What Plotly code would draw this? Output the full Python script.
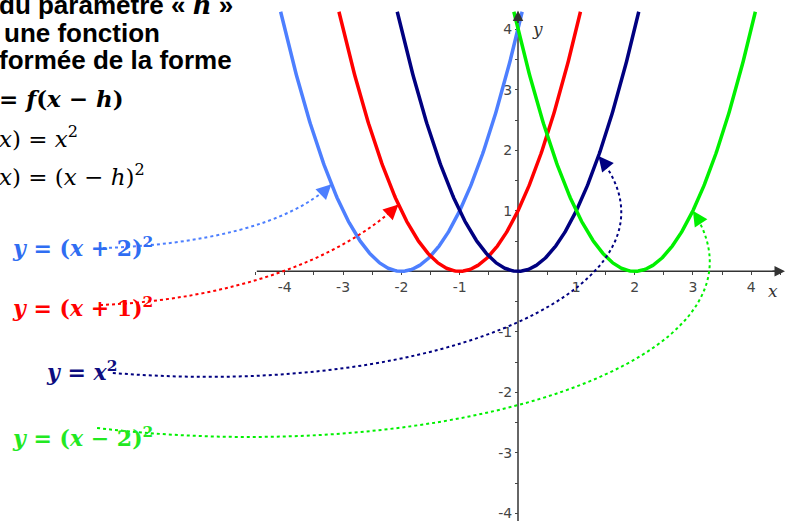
import numpy as np
import plotly.graph_objects as go

# y = (x - h)^2 for each shift h
h_values = [-2, -1, 0, 2]
curve_labels = [
    "<i>y</i> = (<i>x</i> + 2)<sup>2</sup>",
    "<i>y</i> = (<i>x</i> + 1)<sup>2</sup>",
    "<i>y</i> = <i>x</i><sup>2</sup>",
    "<i>y</i> = (<i>x</i> − 2)<sup>2</sup>",
]
curve_colors = ["#4d7fff", "#ff0000", "#000080", "#00f000"]
label_colors = ["#2f6df2", "#ff0000", "#0d0d80", "#22e822"]
arrow_tip_x = [-3.2, -2.05, 1.38, 3.0]   # where each dotted arrow lands on its curve

x_ticks = [-4, -3, -2, -1, 1, 2, 3, 4]
y_ticks = [-4, -3, -2, -1, 1, 2, 3, 4]
y_top = 4.29  # curves are cut here

W, H = 786, 521
x_range = [-8.885, 4.597]
y_range = [-4.127, 4.484]
sx = W / (x_range[1] - x_range[0])
sy = H / (y_range[1] - y_range[0])


def px(x, y):
    # pixel position -> paper coords
    return x / W, 1 - y / H


fig = go.Figure()

for h, col in zip(h_values, curve_colors):
    half = np.sqrt(y_top)
    xs = np.linspace(h - half, h + half, 300)
    fig.add_trace(go.Scatter(x=xs, y=(xs - h) ** 2, mode="lines",
                             line=dict(color=col, width=3.5), hoverinfo="skip"))

# dotted connectors: start point + two bezier control points, end on the curve
connectors = [
    [(-7.12, 0.385), (-5.45, 0.435), (-3.91, 0.765)],
    [(-7.17, -0.557), (-4.94, -0.474), (-3.05, 0.187)],
    [(-6.95, -1.68), (-1.17, -2.13), (3.12, -0.144)],
    [(-7.22, -2.59), (-1.17, -3.28), (4.67, -1.47)],
]
label_pos = [(10, 247), (10, 307), (44, 371), (10, 437)]

shapes = []
annotations = []
for i, h in enumerate(h_values):
    tx = arrow_tip_x[i]
    ty = (tx - h) ** 2
    p0, p1, p2 = connectors[i]
    path = f"M {p0[0]},{p0[1]} C {p1[0]},{p1[1]} {p2[0]},{p2[1]} {tx},{ty}"
    shapes.append(dict(type="path", path=path, xref="x", yref="y",
                       line=dict(color=curve_colors[i], width=2, dash="dot"), layer="above"))
    # arrow head pointing along the end tangent
    dx, dy = (p2[0] - tx) * sx, -(p2[1] - ty) * sy
    n = np.hypot(dx, dy)
    annotations.append(dict(x=tx, y=ty, xref="x", yref="y", text="", showarrow=True,
                            ax=dx / n * 10, ay=dy / n * 10, arrowhead=2, arrowsize=1.5,
                            arrowwidth=2, arrowcolor=curve_colors[i]))
    lx, ly = px(*label_pos[i])
    annotations.append(dict(x=lx, y=ly, xref="paper", yref="paper", xanchor="left", yanchor="middle",
                            text="<b>" + curve_labels[i] + "</b>", showarrow=False,
                            font=dict(family="DejaVu Serif", size=22, color=label_colors[i])))

# axes lines and arrows
shapes.append(dict(type="line", xref="x", yref="y", x0=-4.48, y0=0, x1=4.5, y1=0,
                   line=dict(color="#333", width=1.5), layer="below"))
shapes.append(dict(type="line", xref="x", yref="y", x0=0, y0=y_range[0], x1=0, y1=4.25,
                   line=dict(color="#333", width=1.5), layer="below"))
annotations.append(dict(x=4.58, y=0, xref="x", yref="y", text="", showarrow=True, ax=-14, ay=0,
                        arrowhead=2, arrowsize=1.4, arrowwidth=1.5, arrowcolor="#333"))
annotations.append(dict(x=0, y=4.31, xref="x", yref="y", text="", showarrow=True, ax=0, ay=14,
                        arrowhead=2, arrowsize=1.4, arrowwidth=1.5, arrowcolor="#333"))
annotations.append(dict(x=4.38, y=-0.32, xref="x", yref="y", text="<i>x</i>", showarrow=False,
                        font=dict(family="DejaVu Serif", size=17, color="#333")))
annotations.append(dict(x=0.33, y=4.0, xref="x", yref="y", text="<i>y</i>", showarrow=False,
                        font=dict(family="DejaVu Serif", size=17, color="#333")))

# text block at top left (cut by the left edge)
title_lines = [
    ("<b>du paramètre « <span style=\"font-family:DejaVu Serif\"><i>h</i></span> »</b>", 0, 5),
    ("<b>une fonction</b>", 5, 33),
    ("<b>formée de la forme</b>", 0, 60),
]
for txt, x, y in title_lines:
    ax_, ay_ = px(x, y)
    annotations.append(dict(x=ax_, y=ay_, xref="paper", yref="paper", xanchor="left", yanchor="middle",
                            text=txt, showarrow=False, xshift=-3,
                            font=dict(family="Liberation Sans", size=26, color="black")))
math_lines = [
    ("<b>= <i>f</i>(<i>x</i> − <i>h</i>)</b>", 0, 99),
    ("<i>x</i>) = <i>x</i><sup>2</sup>", 0, 137),
    ("<i>x</i>) = (<i>x</i> − <i>h</i>)<sup>2</sup>", 0, 175),
]
for txt, x, y in math_lines:
    ax_, ay_ = px(x, y)
    annotations.append(dict(x=ax_, y=ay_, xref="paper", yref="paper", xanchor="left", yanchor="middle",
                            text=txt, showarrow=False, xshift=-3,
                            font=dict(family="DejaVu Serif", size=23, color="black")))

x_pos = (0 - x_range[0]) / (x_range[1] - x_range[0])
y_pos = (0 - y_range[0]) / (y_range[1] - y_range[0])
minor_x = [v + 0.5 for v in range(-5, 5)]
minor_y = [v + 0.5 for v in range(-5, 4)]

fig.update_layout(
    width=W, height=H, margin=dict(l=0, r=0, t=0, b=0),
    paper_bgcolor="white", plot_bgcolor="white", showlegend=False,
    shapes=shapes, annotations=annotations,
    xaxis=dict(range=x_range, anchor="free", position=y_pos, showgrid=False, zeroline=False,
               showline=False, tickmode="array", tickvals=x_ticks, ticktext=[str(v) for v in x_ticks],
               ticks="outside", ticklen=3, tickcolor="#444", layer="below traces",
               ticklabeloverflow="allow",
               tickfont=dict(family="DejaVu Sans", size=14, color="#444"),
               minor=dict(tickvals=minor_x, ticks="outside", ticklen=3, tickcolor="#444")),
    yaxis=dict(range=y_range, anchor="free", position=x_pos, showgrid=False, zeroline=False,
               showline=False, tickmode="array", tickvals=y_ticks, ticktext=[str(v) for v in y_ticks],
               ticks="outside", ticklen=3, tickcolor="#444", layer="below traces",
               ticklabeloverflow="allow",
               tickfont=dict(family="DejaVu Sans", size=14, color="#444"),
               minor=dict(tickvals=minor_y, ticks="outside", ticklen=3, tickcolor="#444")),
)

# page body has an 8px default margin; drop it so the figure sits at the window corner
fig.write_html("out.html", config={"displayModeBar": False},
               post_script="document.body.style.margin = '0';")
